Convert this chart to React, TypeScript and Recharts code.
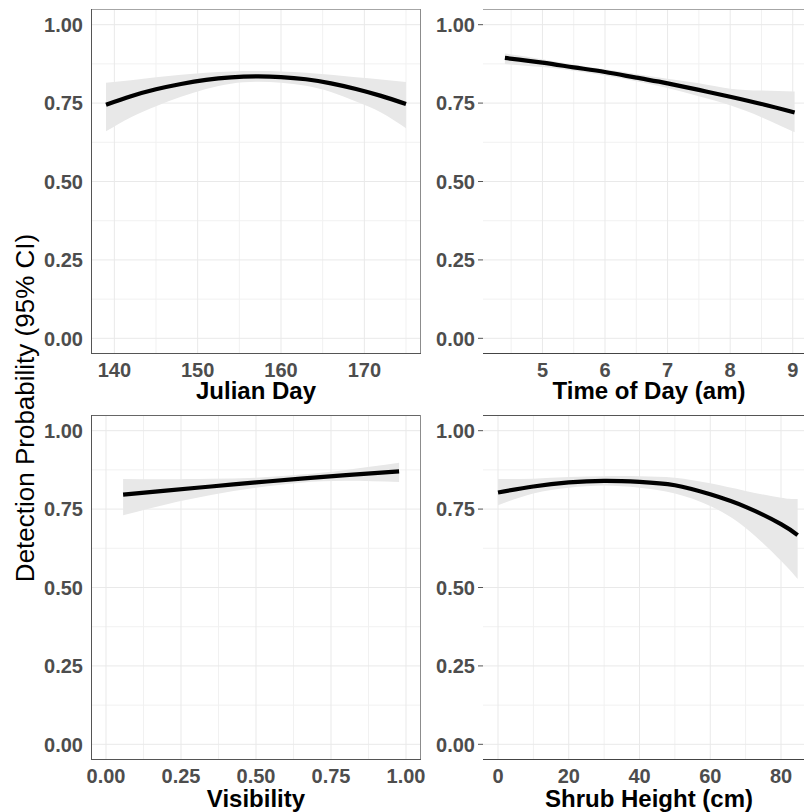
import React from 'react';
import { ComposedChart, Line, Area, XAxis, YAxis, CartesianGrid } from 'recharts';

// ---------- data ----------
const julianX = [139, 142, 145, 148, 151, 154, 157, 160, 163, 166, 169, 172, 175];
const julianFit = [0.745, 0.772, 0.794, 0.811, 0.824, 0.832, 0.835, 0.833, 0.826, 0.813, 0.795, 0.773, 0.747];
const julianLo = [0.66, 0.705, 0.74, 0.77, 0.795, 0.812, 0.818, 0.815, 0.805, 0.785, 0.755, 0.72, 0.67];
const julianHi = [0.815, 0.823, 0.832, 0.84, 0.847, 0.851, 0.852, 0.851, 0.847, 0.84, 0.832, 0.825, 0.817];

const timeX = [4.4, 5, 5.5, 6, 6.5, 7, 7.5, 8, 8.5, 9.03];
const timeFit = [0.894, 0.879, 0.864, 0.849, 0.831, 0.813, 0.792, 0.77, 0.747, 0.72];
const timeLo = [0.875, 0.865, 0.853, 0.838, 0.82, 0.798, 0.772, 0.743, 0.705, 0.657];
const timeHi = [0.908, 0.89, 0.873, 0.858, 0.843, 0.828, 0.813, 0.796, 0.79, 0.787];

const visX = [0.057, 0.2, 0.35, 0.5, 0.65, 0.8, 0.977];
const visFit = [0.796, 0.809, 0.822, 0.835, 0.847, 0.858, 0.87];
const visLo = [0.73, 0.765, 0.795, 0.818, 0.834, 0.84, 0.836];
const visHi = [0.846, 0.845, 0.847, 0.85, 0.86, 0.875, 0.898];

const shrubX = [0, 10, 20, 30, 40, 50, 60, 70, 80, 84.7];
const shrubFit = [0.803, 0.822, 0.835, 0.84, 0.837, 0.826, 0.797, 0.757, 0.702, 0.667];
const shrubLo = [0.762, 0.8, 0.818, 0.825, 0.818, 0.8, 0.76, 0.69, 0.585, 0.527];
const shrubHi = [0.846, 0.847, 0.852, 0.855, 0.855, 0.85, 0.832, 0.808, 0.786, 0.782];

const probTicks = [0, 0.25, 0.5, 0.75, 1];
const probMinor = [0.125, 0.375, 0.625, 0.875];
const julianTicks = [140, 150, 160, 170];
const julianMinor = [145, 155, 165, 175];
const timeTicks = [5, 6, 7, 8, 9];
const timeMinor = [4.5, 5.5, 6.5, 7.5, 8.5];
const visTicks = [0, 0.25, 0.5, 0.75, 1];
const visMinor = [0.125, 0.375, 0.625, 0.875];
const shrubTicks = [0, 20, 40, 60, 80];
const shrubMinor = [10, 30, 50, 70];

const yLabel = 'Detection Probability (95% CI)';

function build(xs: number[], fit: number[], lo: number[], hi: number[]) {
  return xs.map((x, i) => ({ x, fit: fit[i], band: [lo[i], hi[i]] }));
}

const FONT = '"Liberation Sans", Arial, Helvetica, sans-serif';
const TICK_COLOR = '#4d4d4d';
const Y_AXIS_W = 60;

type PanelProps = {
  left: number; top: number; width: number; height: number;
  plotLeft: number; plotTop: number; plotRight: number; plotBottom: number;
  data: any[]; xDomain: [number, number]; xTicks: number[]; xMinor: number[];
  fmt: (v: number) => string; title: string; titleX: number;
  tickOff: number; titleOff: number; showYTicks: boolean;
};

function Panel(p: PanelProps) {
  const axisY = p.plotBottom - p.top;
  const labelRight = p.plotLeft - p.left - 8;
  const XTick = (props: any) => (
    <text x={props.x} y={axisY + p.tickOff + 7.2} textAnchor="middle"
      fontFamily={FONT} fontWeight="bold" fontSize={20} fill={TICK_COLOR}>
      {p.fmt(props.payload.value)}
    </text>
  );
  const YTick = (props: any) => (
    <text x={labelRight} y={props.y + 7.2} textAnchor="end"
      fontFamily={FONT} fontWeight="bold" fontSize={20} fill={TICK_COLOR}>
      {props.payload.value.toFixed(2)}
    </text>
  );
  const XTitle = () => (
    <text x={p.titleX - p.left} y={axisY + p.titleOff + 8.6} textAnchor="middle"
      fontFamily={FONT} fontWeight="bold" fontSize={24} fill="#000">
      {p.title}
    </text>
  );
  return (
    <div style={{ position: 'absolute', left: p.left, top: p.top }}>
      <ComposedChart
        width={p.width}
        height={p.height}
        data={p.data}
        style={{ overflow: 'visible' }}
        margin={{
          top: p.plotTop - p.top,
          right: p.left + p.width - p.plotRight,
          bottom: 0,
          left: p.plotLeft - p.left - Y_AXIS_W,
        }}
      >
        <CartesianGrid stroke="#f1f1f1" strokeWidth={1}
          horizontalValues={probMinor} verticalValues={p.xMinor} />
        <CartesianGrid stroke="#e9e9e9" strokeWidth={1}
          horizontalValues={probTicks} verticalValues={p.xTicks} />
        <XAxis type="number" dataKey="x" domain={p.xDomain} ticks={p.xTicks}
          allowDataOverflow axisLine={false} tickLine={false}
          height={p.top + p.height - p.plotBottom} tick={XTick}
          interval={0} label={XTitle} />
        <YAxis type="number" domain={[-0.05, 1.05]} ticks={probTicks}
          allowDataOverflow axisLine={false} width={Y_AXIS_W}
          tickLine={p.showYTicks ? { stroke: '#555', strokeWidth: 1 } : false}
          tickSize={5} tick={YTick} interval={0} />
        <Area type="natural" dataKey="band" fill="#e8e8e8" fillOpacity={1}
          stroke="none" isAnimationActive={false} />
        <Line type="natural" dataKey="fit" stroke="#000" strokeWidth={4.2}
          dot={false} isAnimationActive={false} />
      </ComposedChart>
    </div>
  );
}

export default function App() {
  const julianData = build(julianX, julianFit, julianLo, julianHi);
  const timeData = build(timeX, timeFit, timeLo, timeHi);
  const visData = build(visX, visFit, visLo, visHi);
  const shrubData = build(shrubX, shrubFit, shrubLo, shrubHi);
  return (
    <div style={{ position: 'absolute', left: 0, top: 0, width: 804, height: 812,
      background: '#fff', overflow: 'hidden' }}>
      <Panel left={0} top={0} width={440} height={410}
        plotLeft={91} plotTop={9} plotRight={421} plotBottom={354}
        data={julianData} xDomain={[137.2, 176.8]} xTicks={julianTicks} xMinor={julianMinor}
        fmt={(v) => String(v)} title="Julian Day" titleX={256}
        tickOff={15.5} titleOff={36.5} showYTicks={false} />
      <Panel left={400} top={0} width={404} height={410}
        plotLeft={483} plotTop={9} plotRight={804} plotBottom={354}
        data={timeData} xDomain={[4.05, 9.18]} xTicks={timeTicks} xMinor={timeMinor}
        fmt={(v) => String(v)} title="Time of Day (am)" titleX={649}
        tickOff={15.5} titleOff={36.5} showYTicks={true} />
      <Panel left={0} top={406} width={440} height={406}
        plotLeft={91} plotTop={415} plotRight={421} plotBottom={760}
        data={visData} xDomain={[-0.05, 1.05]} xTicks={visTicks} xMinor={visMinor}
        fmt={(v) => v.toFixed(2)} title="Visibility" titleX={256}
        tickOff={16} titleOff={38} showYTicks={false} />
      <Panel left={400} top={406} width={404} height={406}
        plotLeft={483} plotTop={415} plotRight={804} plotBottom={760}
        data={shrubData} xDomain={[-4.24, 86.5]} xTicks={shrubTicks} xMinor={shrubMinor}
        fmt={(v) => String(v)} title="Shrub Height (cm)" titleX={649}
        tickOff={16} titleOff={38} showYTicks={true} />
      <svg width={804} height={812} style={{ position: 'absolute', left: 0, top: 0, pointerEvents: 'none' }}>
        {/* top-left panel border */}
        <line x1={91} y1={9.5} x2={421} y2={9.5} stroke="#a6a6a6" strokeWidth={1} />
        <line x1={420.5} y1={9} x2={420.5} y2={354} stroke="#8c8c8c" strokeWidth={1} />
        <line x1={91.5} y1={9} x2={91.5} y2={354} stroke="#555" strokeWidth={1} />
        <line x1={91} y1={353.5} x2={421} y2={353.5} stroke="#555" strokeWidth={1} />
        {/* top-right panel border */}
        <line x1={483} y1={9.5} x2={804} y2={9.5} stroke="#a6a6a6" strokeWidth={1} />
        <line x1={483} y1={353.5} x2={804} y2={353.5} stroke="#444" strokeWidth={1} />
        {/* bottom-left panel border */}
        <line x1={91} y1={415.5} x2={421} y2={415.5} stroke="#666" strokeWidth={1} />
        <line x1={420.5} y1={415} x2={420.5} y2={760} stroke="#8c8c8c" strokeWidth={1} />
        <line x1={91.5} y1={415} x2={91.5} y2={760} stroke="#555" strokeWidth={1} />
        <line x1={91} y1={759.5} x2={421} y2={759.5} stroke="#555" strokeWidth={1} />
        {/* bottom-right panel border */}
        <line x1={483} y1={415.5} x2={804} y2={415.5} stroke="#555" strokeWidth={1} />
        <line x1={483} y1={759.5} x2={804} y2={759.5} stroke="#444" strokeWidth={1} />
        <text x={25} y={408} transform="rotate(-90 25 408)" dy="0.36em" textAnchor="middle"
          fontFamily={FONT} fontSize={26} fill="#000">{yLabel}</text>
      </svg>
    </div>
  );
}
